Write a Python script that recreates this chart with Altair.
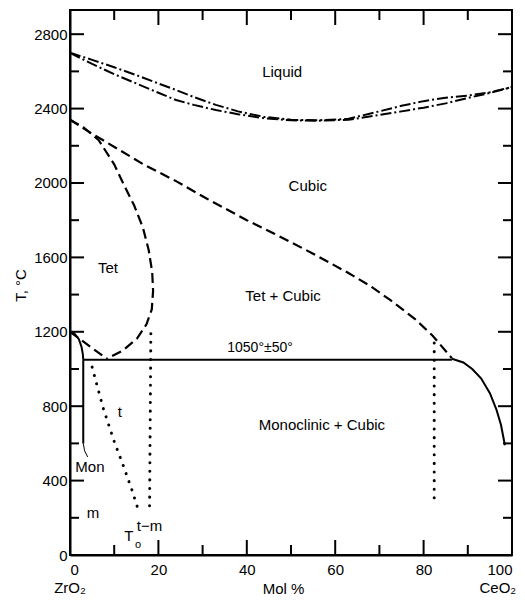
import altair as alt
import pandas as pd

FONT = "Liberation Sans, Arial, Helvetica, sans-serif"
X_DOM = [0, 100]
Y_DOM = [0, 2930]
W, H = 442, 545

# ---------------- data ----------------
# Liquidus / solidus (dash-dot)
liq_up_x = [0, 5, 10, 15, 20, 24, 28, 33, 38, 44, 50, 56, 63, 70, 75, 80, 85, 90, 95, 100]
liq_up_T = [2700, 2662, 2622, 2580, 2535, 2500, 2462, 2420, 2385, 2355, 2340, 2337, 2345, 2385, 2415, 2440, 2458, 2470, 2488, 2516]
liq_lo_x = [0, 5, 10, 15, 20, 24, 28, 33, 38, 44, 50, 56, 63, 70, 75, 80, 85, 90, 95, 100]
liq_lo_T = [2700, 2640, 2585, 2535, 2485, 2446, 2420, 2392, 2370, 2348, 2337, 2335, 2340, 2366, 2385, 2405, 2428, 2457, 2484, 2516]

# Cubic / Tet+Cubic boundary (dashed)
cub_x = [0, 5, 11, 17, 24, 31, 40, 46, 55, 63, 68, 72.5, 78, 82, 86.4]
cub_T = [2340, 2265, 2180, 2095, 2010, 1915, 1800, 1730, 1620, 1516, 1445, 1370, 1270, 1180, 1058]

# Tet / Tet+Cubic boundary (dashed)
tet_x = [0, 3, 6.5, 10, 12, 14.5, 16.5, 17.8, 18.6, 18.8, 18.5, 17.3, 15.2, 12, 8.3]
tet_T = [2340, 2300, 2230, 2100, 2000, 1880, 1760, 1640, 1520, 1420, 1320, 1240, 1165, 1100, 1055]

# Tet -> Mon eutectoid branch (dashed)
eut_x = [0, 8.3]
eut_T = [1200, 1055]

# Solid boundaries
mon_x = [0, 1, 2, 2.6, 2.9, 3, 3]
mon_T = [1200, 1190, 1160, 1120, 1080, 1050, 600]
iso_x = [3, 86.4]
iso_T = [1050, 1050]
cur_x = [86.4, 89, 91, 93, 95, 96.5, 97.5, 98.4]
cur_T = [1055, 1035, 1000, 950, 870, 780, 700, 590]
lead_x = [3, 3.3, 4.0]
lead_T = [600, 560, 527]

# Dotted lines
dA_x = [5, 7.5, 10, 12, 14, 15.6]
dA_T = [1010, 790, 610, 484, 350, 231]
dB_x = [18.3, 18.0]
dB_T = [1190, 230]
dC_x = [82.4, 82.4]
dC_T = [1140, 296]

# Labels
lab_text = ["Liquid", "Cubic", "Tet", "Tet + Cubic", "1050\u00b0\u00b150\u00b0",
            "Monoclinic + Cubic", "t", "Mon", "m", "T", "o", "t\u2212m",
            "ZrO\u2082", "CeO\u2082"]
lab_x = [48.0, 53.8, 8.6, 48.2, 43.0, 57.0, 11.3, 4.5, 5.2, 13.3, 15.4, 18.0, 0, 96.8]
lab_T = [2596, 1983, 1542, 1392, 1112, 699, 769, 473, 226, 100, 55, 155, -180, -180]
lab_fs = [15, 15, 15, 15, 14, 15, 15, 15, 15, 15, 11, 15, 15, 15]

x_ticks = [0, 20, 40, 60, 80, 100]
x_minor = [10, 30, 50, 70, 90]
x_major_in = [20, 40, 60, 80]
y_ticks = [0, 400, 800, 1200, 1600, 2000, 2400, 2800]
y_minor = [200, 600, 1000, 1400, 1800, 2200, 2600]

# ---------------- encodings ----------------
xaxis = alt.Axis(values=x_ticks, format="d", tickSize=0, labelPadding=7, labelFontSize=15,
                 labelFont=FONT, labelColor="black", domainColor="black",
                 domainWidth=2, grid=False, title="Mol %", titleFont=FONT,
                 titleFontSize=15, titleFontWeight="normal", titleColor="black",
                 titleX=213, titleY=33, titleBaseline="middle")
yaxis = alt.Axis(values=y_ticks, format="d", tickSize=0, labelPadding=3, labelFontSize=15,
                 labelFont=FONT, labelColor="black", domainColor="black",
                 domainWidth=2, grid=False, title="T, \u00b0C", titleFont=FONT,
                 titleFontSize=15, titleFontWeight="normal", titleColor="black",
                 titleX=-50, titleY=275, titleAngle=-90, titleAlign="center",
                 titleBaseline="middle")


def xenc():
    return alt.X("x:Q", scale=alt.Scale(domain=X_DOM, nice=False, zero=False), axis=xaxis)


def yenc():
    return alt.Y("T:Q", scale=alt.Scale(domain=Y_DOM, nice=False, zero=False), axis=yaxis)


def line_layer(xs, ys, dash=None, width=2.0, cap="butt"):
    df = pd.DataFrame({"x": xs, "T": ys, "o": list(range(len(xs)))})
    kw = dict(color="black", strokeWidth=width, strokeCap=cap, clip=False)
    if dash:
        kw["strokeDash"] = dash
    return alt.Chart(df).mark_line(**kw).encode(x=xenc(), y=yenc(), order="o:Q")


DASHDOT = [11, 3, 2, 3]
DASH = [10, 5]
DOT = [0.1, 8.5]

layers = [
    line_layer(liq_up_x, liq_up_T, DASHDOT, 2.0),
    line_layer(liq_lo_x, liq_lo_T, DASHDOT, 2.0),
    line_layer(cub_x, cub_T, DASH, 2.2),
    line_layer(tet_x, tet_T, DASH, 2.2),
    line_layer(eut_x, eut_T, DASH, 2.2),
    line_layer(mon_x, mon_T, None, 2.0),
    line_layer(iso_x, iso_T, None, 2.0),
    line_layer(cur_x, cur_T, None, 2.0),
    line_layer(lead_x, lead_T, None, 1.0),
    line_layer(dA_x, dA_T, DOT, 3.0, "round"),
    line_layer(dB_x, dB_T, DOT, 3.0, "round"),
    line_layer(dC_x, dC_T, DOT, 3.0, "round"),
]

# inward ticks
ytk_maj = pd.DataFrame({"T": y_ticks})
ytk_min = pd.DataFrame({"T": y_minor})
xtk_maj = pd.DataFrame({"x": x_major_in})
xtk_min = pd.DataFrame({"x": x_minor})
for df, ln in [(ytk_maj, 14), (ytk_min, 9)]:
    layers.append(alt.Chart(df).mark_rule(color="black", strokeWidth=2).encode(
        y=yenc(), x=alt.value(0), x2=alt.value(ln)))
    layers.append(alt.Chart(df).mark_rule(color="black", strokeWidth=2).encode(
        y=yenc(), x=alt.value(W), x2=alt.value(W - ln)))
for df, ln in [(xtk_maj, 15), (xtk_min, 10)]:
    layers.append(alt.Chart(df).mark_rule(color="black", strokeWidth=2).encode(
        x=xenc(), y=alt.value(H), y2=alt.value(H - ln)))
    layers.append(alt.Chart(df).mark_rule(color="black", strokeWidth=2).encode(
        x=xenc(), y=alt.value(0), y2=alt.value(ln)))

labels = pd.DataFrame({"x": lab_x, "T": lab_T, "label": lab_text, "fs": lab_fs})
layers.append(alt.Chart(labels).mark_text(font=FONT, color="black", clip=False,
                                          align="center", baseline="middle").encode(
    x=xenc(), y=yenc(), text="label:N", size=alt.Size("fs:Q", scale=None)))

chart = alt.layer(*layers).properties(
    width=W, height=H,
    autosize=alt.AutoSizeParams(type="none"),
    padding={"left": 62, "top": 2, "right": 5, "bottom": 43},
    background="white",
).configure_view(stroke="black", strokeWidth=2)

chart.save("out.html", embed_options={"renderer": "svg", "actions": False})
